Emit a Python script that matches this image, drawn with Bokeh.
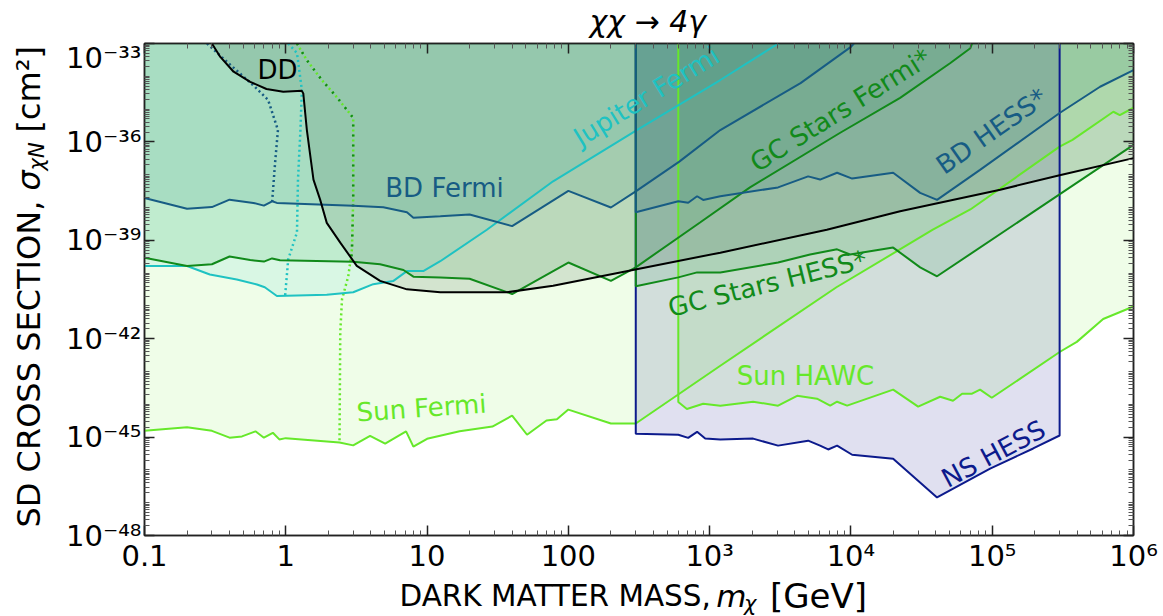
import math
from bokeh.plotting import figure
from bokeh.layouts import row, column
from bokeh.models import FixedTicker, CustomJSTickFormatter, LogAxis, Range1d
from bokeh.embed import file_html
from bokeh.resources import INLINE
from bokeh.core.properties import value

# ---------------- limits: dark matter mass [GeV] vs SD cross section [cm^2] ----------------
sun_fermi_m = [0.1, 0.2, 0.3, 0.4, 0.49, 0.61, 0.70, 0.81, 0.90, 1.0, 2.4, 3.0, 3.95, 5.05, 7.1, 8.0,
               10, 17, 29, 40, 51, 70, 83, 100, 200, 300, 1190, 7900, 38000, 70000, 3.0e5, 3.7e5,
               7.2e5, 8.0e5, 1e6]
sun_fermi_s = [1.55e-45, 2.0e-45, 1.55e-45, 9.6e-46, 1.05e-45, 1.5e-45, 9.6e-46, 1.35e-45, 8.5e-46,
               9.3e-46, 6.8e-46, 5.6e-46, 1.09e-45, 6.3e-46, 1.5e-45, 5.1e-46, 8.9e-46, 1.5e-45,
               2.1e-45, 4.5e-45, 1.18e-45, 3.2e-45, 3.5e-45, 6.9e-45, 2.6e-45, 2.6e-45, 1.5e-43,
               3.7e-41, 2.1e-39, 8.7e-39, 7.2e-37, 1.15e-36, 8.3e-36, 6.6e-36, 1.1e-35]

sun_hawc_m = [600, 690, 900, 1190, 2030, 3050, 4160, 5750, 7130, 7980, 9400, 19900, 29900, 42800,
              52800, 61200, 72000, 82000, 99300, 3.02e5, 3.97e5, 6.1e5, 1e6]
sun_hawc_s = [1.17e-44, 7.2e-45, 1.04e-44, 9.1e-45, 1.2e-44, 9.1e-45, 1.82e-44, 1.48e-44, 9.1e-45,
              1.2e-44, 9.1e-45, 2.8e-44, 8.5e-45, 1.7e-44, 1.29e-44, 2.1e-44, 2.1e-44, 2.8e-44,
              1.58e-44, 4.0e-43, 8.0e-43, 4.0e-42, 9.6e-42]

ns_hess_m = [300, 600, 705, 815, 930, 1190, 2030, 3050, 4980, 6050, 6900, 7980, 10200, 19900,
             40700, 96600, 1.95e5, 3.0e5]
ns_hess_s = [1.27e-45, 1.18e-45, 9.5e-46, 1.45e-45, 9.0e-46, 8.4e-46, 9.0e-46, 5.5e-46, 7.8e-46,
             5.5e-46, 4.2e-46, 5.5e-46, 2.9e-46, 2.2e-46, 1.45e-47, 1.1e-46, 4.5e-46, 1.12e-45]

bd_hess_m = [300, 600, 705, 815, 900, 1190, 3050, 4980, 6050, 7980, 10200, 19900, 30900, 40700,
             82000, 3.0e5, 5.8e5, 1e6]
bd_hess_s = [7.2e-39, 1.55e-38, 1.4e-38, 2.2e-38, 1.7e-38, 2.2e-38, 4.1e-38, 8.9e-38, 7.1e-38,
             1.15e-37, 7.6e-38, 1.15e-37, 2.8e-38, 1.7e-38, 1.4e-37, 7.6e-36, 4.8e-35, 1.55e-34]

gc_hess_m = [300, 600, 815, 1190, 3050, 5140, 7980, 9860, 19900, 30900, 40700, 1e6]
gc_hess_s = [4.0e-41, 7.4e-41, 1.05e-40, 1.05e-40, 2.1e-40, 3.7e-40, 5.3e-40, 3.7e-40, 6.0e-40,
             1.5e-40, 8.0e-41, 8.1e-37]

bd_fermi_m = [0.1, 0.2, 0.3, 0.4, 0.59, 0.70, 0.80, 0.865, 3.0, 4.9, 7.2, 8.0, 12.4, 20, 40, 100,
              200, 300, 610, 1190, 4400, 10000, 10500]
bd_fermi_s = [1.95e-38, 9.1e-39, 1.03e-38, 1.73e-38, 1.38e-38, 1.14e-38, 1.55e-38, 1.38e-38,
              1.14e-38, 1.02e-38, 7.2e-39, 4.9e-39, 5.4e-39, 6.1e-39, 2.7e-39, 3.2e-38, 1.0e-38,
              3.1e-38, 2.5e-37, 2.3e-36, 6.2e-35, 7.9e-34, 1e-33]

gc_fermi_m = [0.1, 0.2, 0.3, 0.4, 0.56, 0.70, 0.80, 0.91, 3.0, 4.65, 6.8, 8.0, 12.4, 20, 40, 100,
              200, 300, 855, 1930, 8400, 22300, 50300, 70000, 72000]
gc_fermi_s = [2.95e-40, 1.65e-40, 1.86e-40, 3.2e-40, 2.5e-40, 2.24e-40, 2.8e-40, 2.45e-40,
              2.2e-40, 1.86e-40, 1.24e-40, 7.8e-41, 7.3e-41, 6.7e-41, 2.3e-41, 2.1e-40, 5.8e-41,
              1.5e-40, 3.5e-39, 4.1e-38, 1.9e-36, 2.2e-35, 2.5e-34, 7.2e-34, 1e-33]

jupiter_m = [0.1, 0.2, 0.29, 0.45, 0.625, 0.71, 0.865, 1.95, 3.0, 4.16, 5.75, 7.2, 9.4, 12.4,
             26.5, 78, 305, 1190, 3000, 3100]
jupiter_s = [1.65e-40, 1.65e-40, 9.1e-41, 6.4e-41, 4.5e-41, 3.7e-41, 2.0e-41, 2.2e-41, 2.6e-41,
             4.6e-41, 5.7e-41, 1.15e-40, 1.15e-40, 2.3e-40, 2.1e-39, 6.3e-38, 2.3e-36, 7.7e-35,
             9.5e-34, 1e-33]

dd_m = [0.30, 0.344, 0.427, 0.56, 0.73, 0.96, 1.30, 1.33, 1.41, 1.57, 1.75, 1.95, 2.43, 3.18,
        4.65, 7.2, 12.4, 36.7, 78, 233, 1190, 6750, 22300, 1.14e5, 3.0e5, 1e6]
dd_s = [1e-33, 3.9e-34, 1.38e-34, 6.8e-35, 4.1e-35, 3.4e-35, 3.6e-35, 3.0e-35, 2.3e-36, 7.1e-38,
        1.74e-38, 3.4e-39, 8.5e-40, 1.66e-40, 5.8e-41, 3.2e-41, 2.6e-41, 2.6e-41, 4.1e-41,
        1.05e-40, 4.2e-40, 2.1e-39, 7.7e-39, 3.5e-38, 9.6e-38, 3.2e-37]

# evaporation-mass boundaries (dotted)
bd_evap_m = [0.277, 0.372, 0.607, 0.75, 0.88, 0.84, 0.80]
bd_evap_s = [1e-33, 3.1e-34, 4.7e-35, 1.9e-35, 2.3e-36, 2.3e-37, 1.45e-38]
jup_evap_m = [1.04, 1.2, 1.30, 1.27, 1.22, 1.2, 1.04, 0.99]
jup_evap_s = [1e-33, 5.1e-34, 3.8e-35, 2.3e-36, 7.1e-38, 1.74e-39, 2.6e-40, 2.1e-41]
sun_evap_m = [1.2, 1.41, 1.80, 2.30, 3.0, 3.0, 3.0, 2.94, 2.77, 2.50, 2.43, 2.40]
sun_evap_s = [1e-33, 3.1e-34, 7.7e-35, 2.3e-35, 5.4e-36, 2.3e-37, 1.73e-38, 5.3e-40, 8.0e-41,
              1.6e-41, 1.58e-42, 7.0e-46]
gc_evap_m = [1.2, 1.41, 1.80, 2.30, 3.0, 3.0, 3.0, 2.94, 2.9]
gc_evap_s = [1e-33, 3.1e-34, 7.7e-35, 2.3e-35, 5.4e-36, 2.3e-37, 1.73e-38, 5.3e-40, 2.2e-40]

region_names = ["DD", "BD Fermi", "Jupiter Fermi", "GC Stars Fermi*", "BD HESS*",
                "GC Stars HESS*", "Sun HAWC", "Sun Fermi", "NS HESS"]

x_major_ticks = [0.1, 1, 10, 100, 1e3, 1e4, 1e5, 1e6]
y_major_ticks = [1e-48, 1e-45, 1e-42, 1e-39, 1e-36, 1e-33]

# ---------------- layout / style ----------------
X_MIN, X_MAX = 0.1, 1e6
Y_MIN, Y_MAX = 1e-48, 1e-33
W, H = 1163, 616
YLAB_W = 56                      # strip holding the vertical axis title
TITLE_H, XLAB_H = 40, 41         # strips above / below the main figure
MAIN_W, MAIN_H = W - YLAB_W, H - TITLE_H - XLAB_H
B_LEFT, B_RIGHT, B_TOP, B_BOTTOM = 88, 30, 3, 38
LEFT, TOP = YLAB_W + B_LEFT, TITLE_H + B_TOP          # frame corner on the page
FW, FH = MAIN_W - B_LEFT - B_RIGHT, MAIN_H - B_TOP - B_BOTTOM

C_BD, C_JUP, C_GC, C_SUN, C_NS, C_DD = "#175c84", "#1fc2c2", "#118a1a", "#66e82a", "#0c1a8c", "#000000"
FONT = "DejaVu Sans"


def page_to_data(px, py):
    """Pixel position on the page -> (mass, cross section) on the log axes."""
    lx0, lx1 = math.log10(X_MIN), math.log10(X_MAX)
    ly0, ly1 = math.log10(Y_MIN), math.log10(Y_MAX)
    lx = lx0 + (px - LEFT) / FW * (lx1 - lx0)
    ly = ly1 - (py - TOP) / FH * (ly1 - ly0)
    return 10 ** lx, 10 ** ly


p = figure(width=MAIN_W, height=MAIN_H, x_axis_type="log", y_axis_type="log",
           x_range=Range1d(X_MIN, X_MAX), y_range=Range1d(Y_MIN, Y_MAX),
           output_backend="svg", toolbar_location=None,
           min_border_left=B_LEFT, min_border_right=B_RIGHT, min_border_top=B_TOP,
           min_border_bottom=B_BOTTOM, background_fill_color="white",
           border_fill_color="white", outline_line_color="#222222", outline_line_width=1.5)
p.grid.visible = False

x_minor = [k * 10.0 ** n for n in range(-1, 6) for k in range(2, 10)]
y_minor = [k * 10.0 ** n for n in range(-48, -33) for k in range(1, 10)
           if not (k == 1 and n % 3 == 0)]

sup_code = """
const sup = {"0":"\u2070","1":"\u00b9","2":"\u00b2","3":"\u00b3","4":"\u2074","5":"\u2075",
             "6":"\u2076","7":"\u2077","8":"\u2078","9":"\u2079","-":"\u207b"};
const e = Math.round(Math.log10(tick));
%s
return "10" + String(e).split("").map(c => sup[c]).join("");
"""
x_fmt = CustomJSTickFormatter(code=sup_code % 'if (e >= -1 && e <= 2) { return ["0.1","1","10","100"][e + 1]; }')
y_fmt = CustomJSTickFormatter(code=sup_code % "")
blank_fmt = CustomJSTickFormatter(code="return '';")


def style_axis(ax, ticker, fmt, labels=True):
    ax.ticker = ticker
    ax.formatter = fmt
    ax.axis_line_width = 1.5
    ax.axis_line_color = "#222222"
    ax.major_tick_in, ax.major_tick_out = 10, 0
    ax.minor_tick_in, ax.minor_tick_out = 5, 0
    ax.major_tick_line_width = 1.5
    ax.minor_tick_line_width = 1
    ax.major_tick_line_color = "#222222"
    ax.minor_tick_line_color = "#555555"
    ax.major_label_text_font = FONT
    ax.major_label_text_color = "black"
    ax.major_label_text_font_size = "29px" if labels else "1px"
    ax.major_label_standoff = 3 if labels else 0
    ax.axis_label = None


style_axis(p.xaxis[0], FixedTicker(ticks=x_major_ticks, minor_ticks=x_minor), x_fmt)
style_axis(p.yaxis[0], FixedTicker(ticks=y_major_ticks, minor_ticks=y_minor), y_fmt)
top_ax = LogAxis()
right_ax = LogAxis()
style_axis(top_ax, FixedTicker(ticks=x_major_ticks, minor_ticks=x_minor), blank_fmt, labels=False)
style_axis(right_ax, FixedTicker(ticks=y_major_ticks, minor_ticks=y_minor), blank_fmt, labels=False)
p.add_layout(top_ax, "above")
p.add_layout(right_ax, "right")


# ---------------- excluded regions (filled to the top of the plot) ----------------
def region_above(ms, ss):
    return list(ms) + [ms[-1], ms[0]], list(ss) + [Y_MAX, Y_MAX]


fills = [
    (sun_fermi_m, sun_fermi_s, "#66ee22", 0.10),
    (sun_hawc_m, sun_hawc_s, "#66ee22", 0.10),
    (jupiter_m, jupiter_s, "#20c8c8", 0.10),
    (gc_fermi_m, gc_fermi_s, "#139a3a", 0.12),
    (gc_hess_m, gc_hess_s, "#139a3a", 0.12),
    (bd_fermi_m, bd_fermi_s, "#1f8a78", 0.15),
    (bd_hess_m, bd_hess_s, "#1f8a78", 0.15),
    (ns_hess_m, ns_hess_s, "#000080", 0.12),
    (dd_m, dd_s, "#1a3a2a", 0.13),
]
for ms, ss, col, a in fills:
    xs, ys = region_above(ms, ss)
    p.patch(xs, ys, fill_color=col, fill_alpha=a, line_color=None)

# ---------------- dotted evaporation boundaries ----------------
p.line(bd_evap_m, bd_evap_s, line_color=C_BD, line_width=2.5, line_dash="2 3")
p.line(jup_evap_m, jup_evap_s, line_color=C_JUP, line_width=2.5, line_dash="2 3")
p.line(sun_evap_m, sun_evap_s, line_color=C_SUN, line_width=2.5, line_dash="2 3")
p.line(gc_evap_m, gc_evap_s, line_color=C_GC, line_width=2.5, line_dash="2 8")


# ---------------- limit curves ----------------
def with_left_edge(ms, ss):
    return [ms[0]] + list(ms), [Y_MAX] + list(ss)


p.line(sun_fermi_m, sun_fermi_s, line_color=C_SUN, line_width=2)
xs, ys = with_left_edge(sun_hawc_m, sun_hawc_s)
p.line(xs, ys, line_color=C_SUN, line_width=2)
p.line(jupiter_m, jupiter_s, line_color=C_JUP, line_width=2)
p.line(gc_fermi_m, gc_fermi_s, line_color=C_GC, line_width=2)
p.line(bd_fermi_m, bd_fermi_s, line_color=C_BD, line_width=2)
xs, ys = with_left_edge(ns_hess_m, ns_hess_s)
p.line(xs + [ns_hess_m[-1]], ys + [Y_MAX], line_color=C_NS, line_width=2)
xs, ys = with_left_edge(gc_hess_m, gc_hess_s)
p.line(xs, ys, line_color=C_GC, line_width=2)
xs, ys = with_left_edge(bd_hess_m, bd_hess_s)
p.line(xs, ys, line_color=C_BD, line_width=2)
p.line(dd_m, dd_s, line_color=C_DD, line_width=2)

# ---------------- region names ----------------
name_pos = [(277, 70), (444, 188), (646, 96), (840, 110), (991, 131),
            (767, 284), (805, 377), (421, 409), (993, 455)]
name_angle = [0, 0, 31.5, 32, 35, 14, 0, 4, 28]
name_color = [C_DD, C_BD, C_JUP, C_GC, C_BD, C_GC, C_SUN, C_SUN, C_NS]
for name, (px, py), ang, col in zip(region_names, name_pos, name_angle, name_color):
    mx, sy = page_to_data(px, py)
    p.text([mx], [sy], text=[name], angle=math.radians(ang), text_color=col,
           text_font=value(FONT), text_font_size="26px",
           text_align="center", text_baseline="middle")


# ---------------- strips for the title and the axis titles ----------------
def strip(width, height):
    f = figure(width=width, height=height, x_range=Range1d(0, width), y_range=Range1d(0, height),
               output_backend="svg", toolbar_location=None, min_border=0,
               x_axis_location=None, y_axis_location=None, outline_line_color=None,
               background_fill_color="white", border_fill_color="white")
    f.grid.visible = False
    return f


def put(f, ox, oy, text, px, py, size, align="left", angle=0, style="normal"):
    """Write text (vertically centred) at a pixel position, relative to strip origin (ox, oy)."""
    f.text([px - ox], [f.height - (py - oy)], text=[text], text_font=value(FONT),
           text_font_size=size, text_font_style=style, text_align=align,
           text_baseline="middle", angle=math.radians(angle), text_color="black")


title_strip = strip(MAIN_W, TITLE_H)
put(title_strip, YLAB_W, 0, "\u03c7\u03c7 \u2192 4\u03b3", 554, 21, "30px", style="italic")

xlab_strip = strip(MAIN_W, XLAB_H)
oy = TITLE_H + MAIN_H
put(xlab_strip, YLAB_W, oy, "DARK MATTER MASS,", 690, 595, "29.5px", align="right")
put(xlab_strip, YLAB_W, oy, "m", 696, 595, "31px", style="italic")
put(xlab_strip, YLAB_W, oy, "\u03c7", 727, 603, "21px", style="italic")
put(xlab_strip, YLAB_W, oy, "[GeV]", 756, 595, "34px")

ylab_strip = strip(YLAB_W, H)
put(ylab_strip, 0, 0, "SD CROSS SECTION, ", 28, 190, "32px", align="right", angle=90)
put(ylab_strip, 0, 0, "\u03c3", 28, 190, "32px", angle=90, style="italic")
put(ylab_strip, 0, 0, "\u03c7N", 36, 170, "21px", angle=90, style="italic")
put(ylab_strip, 0, 0, "[cm\u00b2]", 28, 132, "32px", angle=90)

page = row(ylab_strip, column(title_strip, p, xlab_strip, spacing=0), spacing=0)

open("out.html", "w").write(file_html(page, INLINE))
